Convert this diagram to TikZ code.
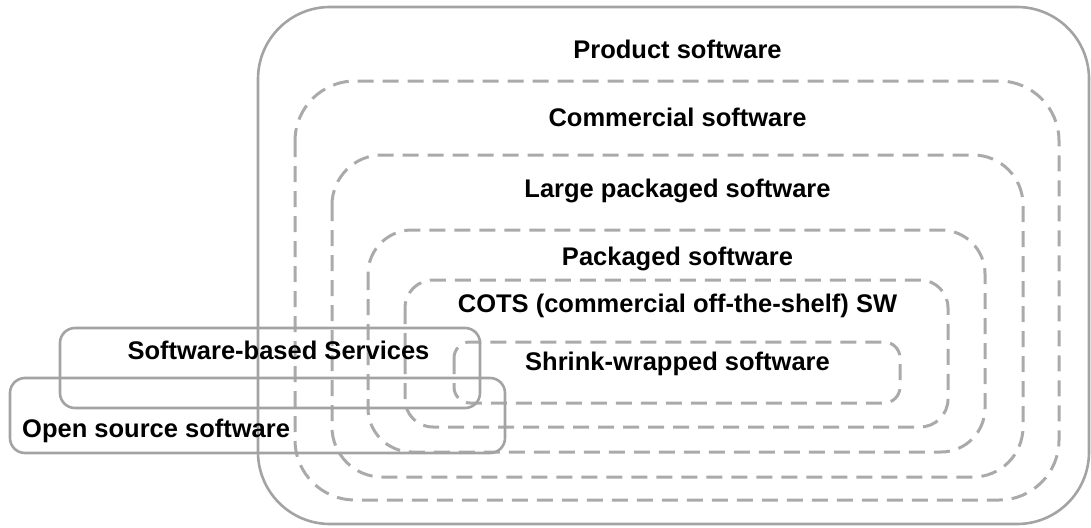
\documentclass[tikz,border=0pt]{standalone}
\usepackage{fontspec}
\setmainfont{Liberation Sans}
\definecolor{framegray}{RGB}{163,163,163}
\definecolor{dashgray}{RGB}{170,170,170}
\begin{document}
\begin{tikzpicture}[x=1pt,y=-1pt,
  frame/.style={draw=framegray, line width=2.6pt, rounded corners=#1},
  layer/.style={draw=dashgray, line width=3pt, dash pattern=on 16pt off 9pt, rounded corners=#1},
  lbl/.style={font=\fontsize{25.5}{30}\selectfont\bfseries, inner sep=0pt, anchor=base}]
\useasboundingbox (0,0) rectangle (1091,527);

% outer solid frame
\draw[frame=72pt] (258,7) rectangle (1089,524);

% nested dashed categories
\draw[layer=60pt] (295,81) rectangle (1059,500);
\draw[layer=50pt] (332,155) rectangle (1023,477);
\draw[layer=44pt] (368,230) rectangle (985,452);
\draw[layer=28pt] (405,280) rectangle (948,427);
\draw[layer=16pt] (454,342) rectangle (900,403);

% overlapping side categories
\draw[frame=15pt] (60,328) rectangle (480,408);
\draw[frame=15pt] (10,378) rectangle (505,453);

% labels
\node[lbl] (product)   at (677.5,59)  {Product software};
\node[lbl] (commercial) at (677.5,126) {Commercial software};
\node[lbl] (large)     at (677.5,197) {Large packaged software};
\node[lbl] (packaged)  at (677.5,265) {Packaged software};
\node[lbl] (cots)      at (677.5,312) {COTS (commercial off-the-shelf) SW};
\node[lbl] (shrink)    at (677.5,370) {Shrink-wrapped software};
\node[lbl] (services)  at (278.5,359) {Software-based Services};
\node[lbl, anchor=base west] (opensrc) at (22,437) {Open source software};
\end{tikzpicture}
\end{document}
